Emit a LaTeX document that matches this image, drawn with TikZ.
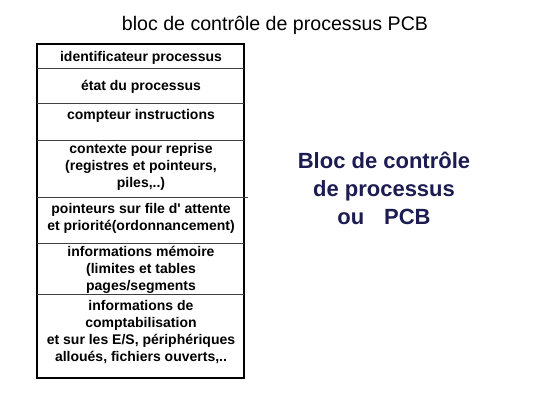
\documentclass[tikz,border=0pt]{standalone}
\usepackage{fontspec}
\setmainfont{Liberation Sans}
\usetikzlibrary{positioning}

\definecolor{pcbnavy}{RGB}{28,28,82}

\begin{document}
\begin{tikzpicture}[
    x=1pt, y=-1pt,
    title/.style={font=\fontsize{19.6}{22}\selectfont, inner sep=0pt},
    field/.style={align=center, inner sep=0pt, font=\bfseries\fontsize{14}{17}\selectfont},
    frame/.style={draw=black, line width=1.3pt},
    divider/.style={draw=black!75, line width=0.8pt},
    legend/.style={align=center, inner sep=0pt, text=pcbnavy, font=\bfseries\fontsize{22}{28}\selectfont}
]
\useasboundingbox (0,0) rectangle (550,413);

% Title
\node[title] (Title) at (275,25) {bloc de contrôle de processus PCB};

% ==================== PCB fields ====================
\draw[frame] (37,44) rectangle (244,378);

\draw[divider] (37,68) -- (244,68);
\draw[divider] (37,103) -- (244,103);
\draw[divider] (37,140) -- (244,140);
\draw[divider] (37,197) -- (248,197);
\draw[divider] (37,243) -- (244,243);
\draw[divider] (37,294) -- (244,294);

\node[field] (f_id) at (141,58) {identificateur processus};
\node[field] (f_etat) at (141,87) {état du processus};
\node[field] (f_cpt) at (141,116) {compteur instructions};
\node[field] (f_ctx) at (141,167) {contexte pour reprise\\(registres et pointeurs,\\piles,..)};
\node[field] (f_file) at (141,218) {pointeurs sur file d\textquotesingle{} attente\\et priorité(ordonnancement)};
\node[field] (f_mem) at (141,270) {informations mémoire\\(limites et tables\\pages/segments};
\node[field] (f_cpta) at (141,332) {informations de\\comptabilisation\\et sur les E/S, périphériques\\alloués, fichiers ouverts,..};

% ==================== Legend ====================
\node[legend] (Legend) at (384,188) {Bloc de contrôle\\de processus\\ou\hspace{0.9em}PCB};

\end{tikzpicture}
\end{document}
